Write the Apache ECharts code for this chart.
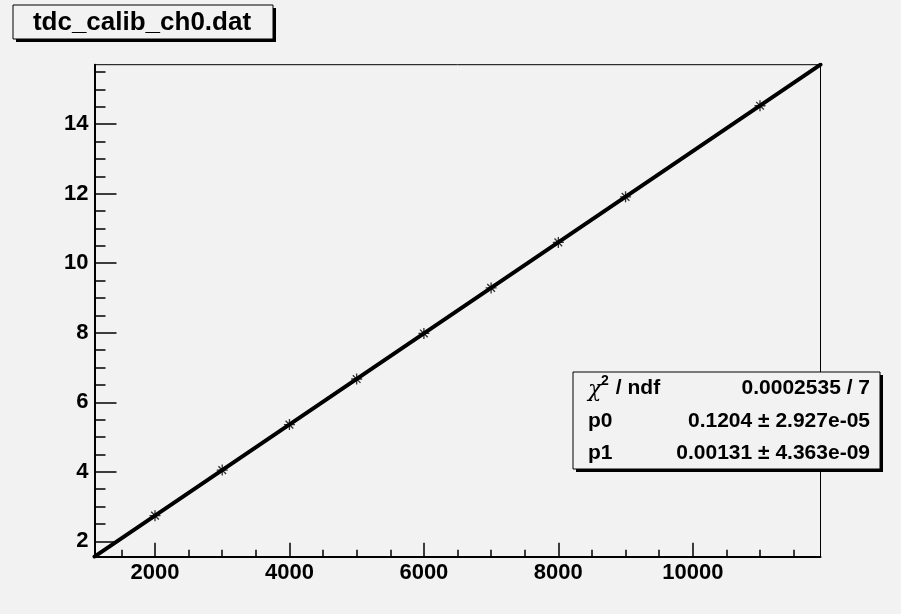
<!DOCTYPE html>
<html>
<head>
<meta charset="utf-8">
<script src="https://cdn.jsdelivr.net/npm/echarts@6/dist/echarts.min.js"></script>
<style>
html,body{margin:0;padding:0;background:#f2f2f2;}
#c{width:901px;height:614px;}
</style>
</head>
<body>
<div id="c"></div>
<script>
// ---- data ----
const titleText = 'tdc_calib_ch0.dat';
const pointX = [2000, 3000, 4000, 5000, 6000, 7000, 8000, 9000, 11000];
const pointY = [2.74, 4.05, 5.36, 6.67, 7.98, 9.29, 10.60, 11.91, 14.53];
const fitX = [1100, 11900];
const fitY = [1.561, 15.71];
const xMajorTicks = [2000, 4000, 6000, 8000, 10000];
const xMinorTicks = [1500, 2500, 3000, 3500, 4500, 5000, 5500, 6500, 7000, 7500, 8500, 9000, 9500, 10500, 11000, 11500];
const yMajorTicks = [2, 4, 6, 8, 10, 12, 14];
const yMinorTicks = [2.5, 3, 3.5, 4.5, 5, 5.5, 6.5, 7, 7.5, 8.5, 9, 9.5, 10.5, 11, 11.5, 12.5, 13, 13.5, 14.5, 15, 15.5];
const statLabels = ['p0', 'p1'];
const statValues = ['0.0002535 / 7', '0.1204 \u00b1 2.927e-05', '0.00131 \u00b1 4.363e-09'];
const xRange = [1100, 11900];
const yRange = [1.56, 15.71];

const FONT = '"Liberation Sans", Arial, Helvetica, sans-serif';
const lblStyle = {color: '#000', fontFamily: FONT, fontWeight: 'bold', fontSize: 22};

const chart = echarts.init(document.getElementById('c'), null, {renderer: 'canvas'});

const fitData = fitX.map((x, i) => [x, fitY[i]]);
const ptData = pointX.map((x, i) => [x, pointY[i]]);

const gridL = 94.5, gridT = 64.7, gridR = 80.5, gridB = 57.3;

const option = {
  animation: false,
  backgroundColor: '#f2f2f2',
  grid: {
    left: gridL, top: gridT, right: gridR, bottom: gridB,
    show: true, borderColor: '#000', borderWidth: 1, backgroundColor: '#f2f2f2',
    containLabel: false
  },
  xAxis: [
    {
      type: 'value', min: xRange[0], max: xRange[1], position: 'bottom',
      axisLine: {show: true, onZero: false, lineStyle: {color: '#000', width: 2}},
      axisTick: {show: true, inside: true, length: 14, customValues: xMajorTicks, lineStyle: {color: '#000', width: 1.5}},
      axisLabel: Object.assign({show: true, margin: 5, customValues: xMajorTicks, formatter: v => String(v)}, lblStyle),
      splitLine: {show: false}
    },
    {
      type: 'value', min: xRange[0], max: xRange[1], position: 'bottom',
      axisLine: {show: false, onZero: false},
      axisTick: {show: true, inside: true, length: 7, customValues: xMinorTicks, lineStyle: {color: '#000', width: 1.5}},
      axisLabel: {show: false},
      splitLine: {show: false}
    }
  ],
  yAxis: [
    {
      type: 'value', min: yRange[0], max: yRange[1], position: 'left',
      axisLine: {show: true, onZero: false, lineStyle: {color: '#000', width: 2}},
      axisTick: {show: true, inside: true, length: 22, customValues: yMajorTicks, lineStyle: {color: '#000', width: 1.5}},
      axisLabel: Object.assign({show: true, margin: 6, customValues: yMajorTicks, formatter: v => String(v)}, lblStyle),
      splitLine: {show: false}
    },
    {
      type: 'value', min: yRange[0], max: yRange[1], position: 'left',
      axisLine: {show: false, onZero: false},
      axisTick: {show: true, inside: true, length: 11, customValues: yMinorTicks, lineStyle: {color: '#000', width: 1.5}},
      axisLabel: {show: false},
      splitLine: {show: false}
    }
  ],
  series: [
    {
      type: 'line', data: fitData, xAxisIndex: 0, yAxisIndex: 0,
      showSymbol: false, symbol: 'none',
      lineStyle: {color: '#000', width: 4, cap: 'round'},
      z: 2
    },
    {
      type: 'scatter', data: ptData, xAxisIndex: 0, yAxisIndex: 0,
      symbol: 'path://M0,5L10,5M5,0L5,10M1.5,1.5L8.5,8.5M1.5,8.5L8.5,1.5',
      symbolSize: 11,
      itemStyle: {color: 'rgba(0,0,0,0)', borderColor: '#000', borderWidth: 1.3},
      z: 3
    }
  ],
  graphic: [
    // title box
    {type: 'rect', shape: {x: 16, y: 8, width: 260, height: 34}, style: {fill: '#000'}, z: 100},
    {type: 'rect', shape: {x: 13, y: 5, width: 260, height: 34}, style: {fill: '#f2f2f2', stroke: '#000', lineWidth: 1}, z: 101},
    {type: 'text', x: 142, y: 23, style: {text: titleText, fill: '#000', font: 'bold 26px ' + FONT, textAlign: 'center', textVerticalAlign: 'middle'}, z: 102},
    // stats box
    {type: 'rect', shape: {x: 576, y: 375, width: 307, height: 97}, style: {fill: '#000'}, z: 100},
    {type: 'rect', shape: {x: 573, y: 372, width: 307, height: 97}, style: {fill: '#f2f2f2', stroke: '#000', lineWidth: 1}, z: 101},
    {type: 'text', x: 588, y: 390, style: {text: '\u03c7', fill: '#000', font: 'italic 22px "DejaVu Serif", serif', textAlign: 'left', textVerticalAlign: 'middle'}, z: 102},
    {type: 'text', x: 601, y: 381, style: {text: '2', fill: '#000', font: 'bold 14px ' + FONT, textAlign: 'left', textVerticalAlign: 'middle'}, z: 102},
    {type: 'text', x: 610, y: 388, style: {text: ' / ndf', fill: '#000', font: 'bold 21px ' + FONT, textAlign: 'left', textVerticalAlign: 'middle'}, z: 102},
    {type: 'text', x: 588, y: 421, style: {text: statLabels[0], fill: '#000', font: 'bold 21px ' + FONT, textAlign: 'left', textVerticalAlign: 'middle'}, z: 102},
    {type: 'text', x: 588, y: 453, style: {text: statLabels[1], fill: '#000', font: 'bold 21px ' + FONT, textAlign: 'left', textVerticalAlign: 'middle'}, z: 102},
    {type: 'text', x: 870, y: 388, style: {text: statValues[0], fill: '#000', font: 'bold 21px ' + FONT, textAlign: 'right', textVerticalAlign: 'middle'}, z: 102},
    {type: 'text', x: 870, y: 421, style: {text: statValues[1], fill: '#000', font: 'bold 21px ' + FONT, textAlign: 'right', textVerticalAlign: 'middle'}, z: 102},
    {type: 'text', x: 870, y: 453, style: {text: statValues[2], fill: '#000', font: 'bold 21px ' + FONT, textAlign: 'right', textVerticalAlign: 'middle'}, z: 102}
  ]
};
chart.setOption(option);
</script>
</body>
</html>
